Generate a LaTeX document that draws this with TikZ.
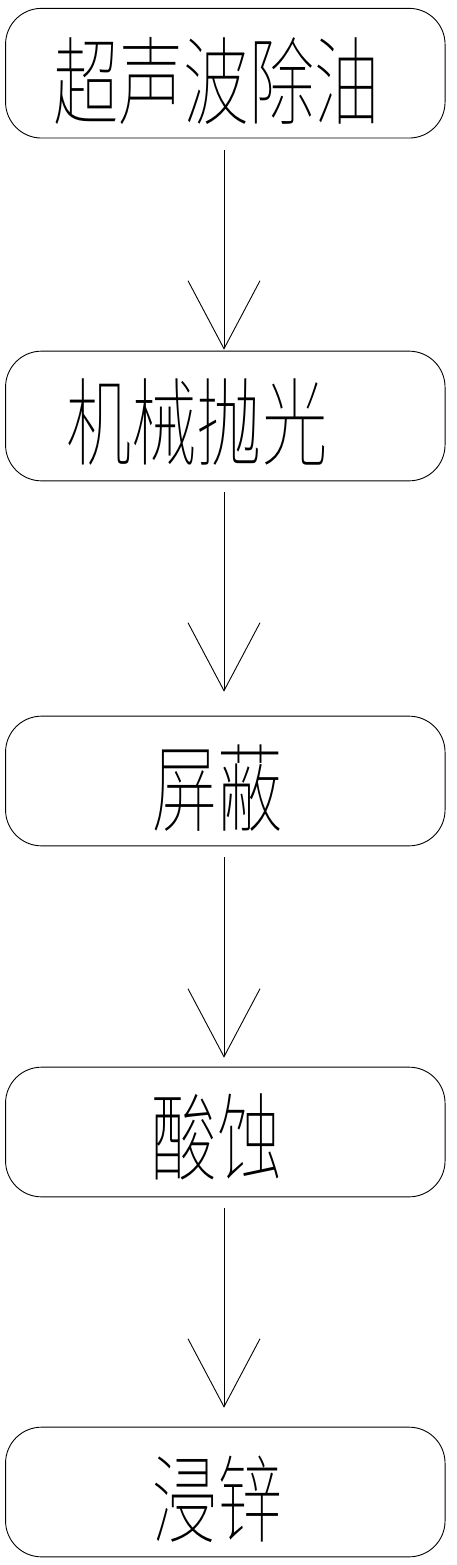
\documentclass[tikz,border=0pt]{standalone}
\usepackage{fontspec}
\usetikzlibrary{arrows.meta}
\IfFontExistsTF{Noto Sans CJK SC Thin}
  {\newfontfamily\cjk{Noto Sans CJK SC Thin}[FakeStretch=0.68]}
  {\IfFontExistsTF{Noto Sans CJK SC Light}
    {\newfontfamily\cjk{Noto Sans CJK SC Light}[FakeStretch=0.68]}
    {\newfontfamily\cjk{Noto Sans CJK SC}[FakeStretch=0.68]}}
\tikzset{
  stepbox/.style={draw=black, line width=0.9pt, rounded corners=36pt,
    minimum width=439.5pt, minimum height=129.7pt, inner sep=0pt},
  steptext/.style={anchor=base, inner sep=0pt,
    font=\cjk\fontsize{96}{96}\selectfont},
  flowarrow/.style={draw=black, line width=0.9pt,
    -{Straight Barb[length=68pt, width=72pt, line width=0.9pt]}}
}
\begin{document}
\begin{tikzpicture}[x=1pt, y=-1pt]
\useasboundingbox (0,0) rectangle (456,1565);
% boxes
\node[stepbox] (b1) at (225.3,73.2) {};
\node[stepbox] (b2) at (225.3,416) {};
\node[stepbox] (b3) at (225.3,781) {};
\node[stepbox] (b4) at (225.3,1132) {};
\node[stepbox] (b5) at (225.3,1492) {};
% texts
\node[steptext] (t1) at (216.5,117.5) {超声波除油};
\node[steptext] (t2) at (197,458.5) {机械抛光};
\node[steptext] (t3) at (217.5,824.5) {屏蔽};
\node[steptext] (t4) at (217,1173.5) {酸蚀};
\node[steptext] (t5) at (217.5,1535.5) {浸锌};
% arrows
\draw[flowarrow] ([xshift=-1.3pt,yshift=-12pt]b1.south) -- ([xshift=-1.3pt,yshift=1pt]b2.north);
\draw[flowarrow] ([xshift=-1.3pt,yshift=-11pt]b2.south) -- ([xshift=-1.3pt,yshift=24pt]b3.north);
\draw[flowarrow] ([xshift=-1.3pt,yshift=-11pt]b3.south) -- ([xshift=-1.3pt,yshift=9pt]b4.north);
\draw[flowarrow] ([xshift=-1.3pt,yshift=-11pt]b4.south) -- ([xshift=-1.3pt,yshift=19pt]b5.north);
\end{tikzpicture}
\end{document}
